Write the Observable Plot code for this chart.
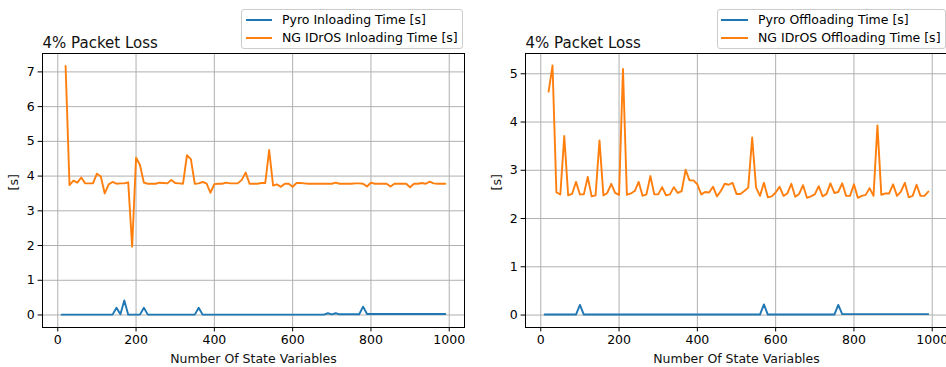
<!DOCTYPE html>
<html><head><meta charset="utf-8">
<script src="https://cdn.jsdelivr.net/npm/d3@7"></script>
<script src="https://cdn.jsdelivr.net/npm/@observablehq/plot@0.6"></script>
<style>
body{margin:0;background:#fff;overflow:hidden;}
#wrap{position:relative;width:946px;height:367px;overflow:hidden;font-family:"DejaVu Sans",sans-serif;background:#fff;}
.panel{position:absolute;top:0;}
.legend{position:absolute;background:rgba(255,255,255,0.8);border:1px solid #cccccc;border-radius:3px;box-sizing:border-box;font-size:12.5px;color:#000;}
.row{position:absolute;height:16px;line-height:16px;white-space:nowrap;}
.swatch{position:absolute;height:2px;}
</style></head>
<body><div id="wrap"></div>
<script>
const titleText = "4% Packet Loss";
const xLabel = "Number Of State Variables";
const yLabel = "[s]";
const seriesNamesLeft = ["Pyro Inloading Time [s]", "NG IDrOS Inloading Time [s]"];
const seriesNamesRight = ["Pyro Offloading Time [s]", "NG IDrOS Offloading Time [s]"];
const xTicks = [0, 200, 400, 600, 800, 1000];
const yTicksLeft = [0, 1, 2, 3, 4, 5, 6, 7];
const yTicksRight = [0, 1, 2, 3, 4, 5];

const stateVars = [10,20,30,40,50,60,70,80,90,100,110,120,130,140,150,160,170,180,190,200,
210,220,230,240,250,260,270,280,290,300,310,320,330,340,350,360,370,380,390,400,
410,420,430,440,450,460,470,480,490,500,510,520,530,540,550,560,570,580,590,600,
610,620,630,640,650,660,670,680,690,700,710,720,730,740,750,760,770,780,790,800,
810,820,830,840,850,860,870,880,890,900,910,920,930,940,950,960,970,980,990];

// Left: inloading
const pyroIn = [0.01,0.01,0.01,0.01,0.01,0.01,0.01,0.01,0.01,0.01,0.01,0.01,0.01,0.01,0.21,0.02,0.42,0.01,0.01,0.01,
0.01,0.21,0.01,0.01,0.01,0.01,0.01,0.01,0.01,0.01,0.01,0.01,0.01,0.01,0.01,0.21,0.01,0.01,0.01,0.01,
0.01,0.01,0.01,0.01,0.01,0.01,0.01,0.01,0.01,0.01,0.01,0.01,0.01,0.01,0.01,0.01,0.01,0.01,0.01,0.01,
0.01,0.01,0.01,0.01,0.01,0.01,0.01,0.01,0.05,0.02,0.05,0.02,0.02,0.02,0.02,0.02,0.02,0.24,0.03,0.03,
0.03,0.03,0.03,0.03,0.03,0.03,0.03,0.03,0.03,0.03,0.03,0.03,0.03,0.03,0.03,0.03,0.03,0.03,0.03];
const ngIn = [null,7.17,3.74,3.87,3.81,3.96,3.79,3.79,3.79,4.07,3.99,3.50,3.76,3.83,3.78,3.79,3.79,3.82,1.97,4.53,
4.32,3.81,3.78,3.78,3.78,3.81,3.80,3.79,3.89,3.80,3.79,3.78,4.60,4.49,3.78,3.79,3.83,3.79,3.52,3.77,
3.78,3.78,3.81,3.79,3.79,3.79,3.89,4.10,3.78,3.78,3.78,3.80,3.80,4.75,3.73,3.76,3.69,3.78,3.78,3.69,
3.80,3.80,3.79,3.78,3.78,3.78,3.78,3.78,3.78,3.78,3.81,3.78,3.78,3.78,3.78,3.79,3.79,3.78,3.70,3.81,
3.78,3.78,3.78,3.78,3.70,3.78,3.78,3.78,3.78,3.68,3.78,3.78,3.80,3.78,3.84,3.79,3.78,3.78,3.78];

// Right: offloading
const pyroOff = [0.01,0.01,0.01,0.01,0.01,0.01,0.01,0.01,0.01,0.21,0.01,0.01,0.01,0.01,0.01,0.01,0.01,0.01,0.01,0.01,
0.01,0.01,0.01,0.01,0.01,0.01,0.01,0.01,0.01,0.01,0.01,0.01,0.01,0.01,0.01,0.01,0.01,0.01,0.01,0.01,
0.01,0.01,0.01,0.01,0.01,0.01,0.01,0.01,0.01,0.01,0.01,0.01,0.01,0.01,0.01,0.01,0.22,0.01,0.01,0.01,
0.01,0.01,0.01,0.01,0.01,0.01,0.01,0.01,0.01,0.01,0.01,0.01,0.01,0.01,0.01,0.21,0.02,0.02,0.02,0.02,
0.02,0.02,0.02,0.02,0.02,0.02,0.02,0.02,0.02,0.02,0.02,0.02,0.02,0.02,0.02,0.02,0.02,0.02,0.02];
const ngOff = [null,4.63,5.17,2.54,2.50,3.71,2.48,2.51,2.76,2.50,2.50,2.86,2.46,2.48,3.62,2.48,2.53,2.72,2.53,2.49,
5.10,2.49,2.52,2.57,2.76,2.47,2.50,2.88,2.50,2.50,2.65,2.48,2.50,2.65,2.53,2.57,3.01,2.79,2.79,2.71,
2.50,2.55,2.54,2.66,2.46,2.57,2.72,2.70,2.74,2.51,2.51,2.57,2.64,3.68,2.64,2.47,2.74,2.44,2.46,2.54,
2.66,2.47,2.52,2.72,2.45,2.51,2.69,2.43,2.46,2.50,2.67,2.46,2.51,2.73,2.53,2.55,2.73,2.47,2.47,2.71,
2.43,2.47,2.49,2.63,2.47,3.93,2.49,2.52,2.52,2.71,2.47,2.56,2.74,2.44,2.47,2.70,2.47,2.47,2.56];

const BLUE = "#1f77b4", ORANGE = "#ff7f0e";

function panel({left, width, marginLeft, marginRight, yDomain, yTicks, pyro, ng}) {
  const rows = stateVars.map((n, i) => ({n, pyro: pyro[i], ng: ng[i]}));
  const axisStyle = {tickSize: 4.4, tickPadding: 3.5, fontSize: 12.5, stroke: "#000", fill: "#000"};
  const chart = Plot.plot({
    width, height: 367, marginLeft, marginRight, marginTop: 53, marginBottom: 40,
    style: {fontFamily: "DejaVu Sans", fontSize: "12.5px", color: "#000", background: "transparent", overflow: "visible"},
    x: {domain: [-39, 1039]},
    y: {domain: yDomain},
    marks: [
      Plot.gridX(xTicks, {stroke: "#b0b0b0", strokeOpacity: 1, strokeWidth: 1}),
      Plot.gridY(yTicks, {stroke: "#b0b0b0", strokeOpacity: 1, strokeWidth: 1}),
      Plot.axisX(xTicks, {...axisStyle, label: null, tickFormat: d => String(d)}),
      Plot.axisY(yTicks, {...axisStyle, label: null, tickFormat: d => String(d)}),
      Plot.line(rows, {x: "n", y: "pyro", stroke: BLUE, strokeWidth: 1.9}),
      Plot.line(rows, {x: "n", y: "ng", stroke: ORANGE, strokeWidth: 1.9}),
      Plot.frame({stroke: "#000", strokeWidth: 1}),
      Plot.text([titleText], {frameAnchor: "top-left", textAnchor: "start", lineAnchor: "bottom", dy: -6, fontSize: 15, fill: "#111"}),
      Plot.text([xLabel], {frameAnchor: "bottom", lineAnchor: "middle", dy: 31, fontSize: 12.5, fill: "#111"}),
      Plot.text([yLabel], {frameAnchor: "left", rotate: -90, lineAnchor: "middle", dx: -29, fontSize: 12.5, fill: "#111"})
    ]
  });
  chart.classList.add("panel");
  chart.style.left = left + "px";
  return chart;
}

function legend({left, top, width, height, names, swX, swW, textX}) {
  const box = document.createElement("div");
  box.className = "legend";
  Object.assign(box.style, {left: left + "px", top: top + "px", width: width + "px", height: height + "px"});
  [BLUE, ORANGE].forEach((c, i) => {
    const cy = i === 0 ? 10 : 28;
    const sw = document.createElement("div");
    sw.className = "swatch";
    Object.assign(sw.style, {left: swX + "px", width: swW + "px", top: (cy - 1) + "px", background: c});
    box.appendChild(sw);
    const r = document.createElement("div");
    r.className = "row";
    r.textContent = names[i];
    Object.assign(r.style, {left: textX + "px", top: (cy - 8) + "px"});
    box.appendChild(r);
  });
  return box;
}

const wrap = document.getElementById("wrap");
wrap.appendChild(panel({left: 0, width: 470, marginLeft: 42, marginRight: 6, yDomain: [-0.36, 7.53], yTicks: yTicksLeft, pyro: pyroIn, ng: ngIn}));
wrap.appendChild(panel({left: 470, width: 480, marginLeft: 55, marginRight: 3, yDomain: [-0.258, 5.42], yTicks: yTicksRight, pyro: pyroOff, ng: ngOff}));
wrap.appendChild(legend({left: 241, top: 9, width: 222, height: 40, names: seriesNamesLeft, swX: 4, swW: 26, textX: 40}));
wrap.appendChild(legend({left: 717, top: 9, width: 229, height: 40, names: seriesNamesRight, swX: 3, swW: 27, textX: 40}));
</script></body></html>
